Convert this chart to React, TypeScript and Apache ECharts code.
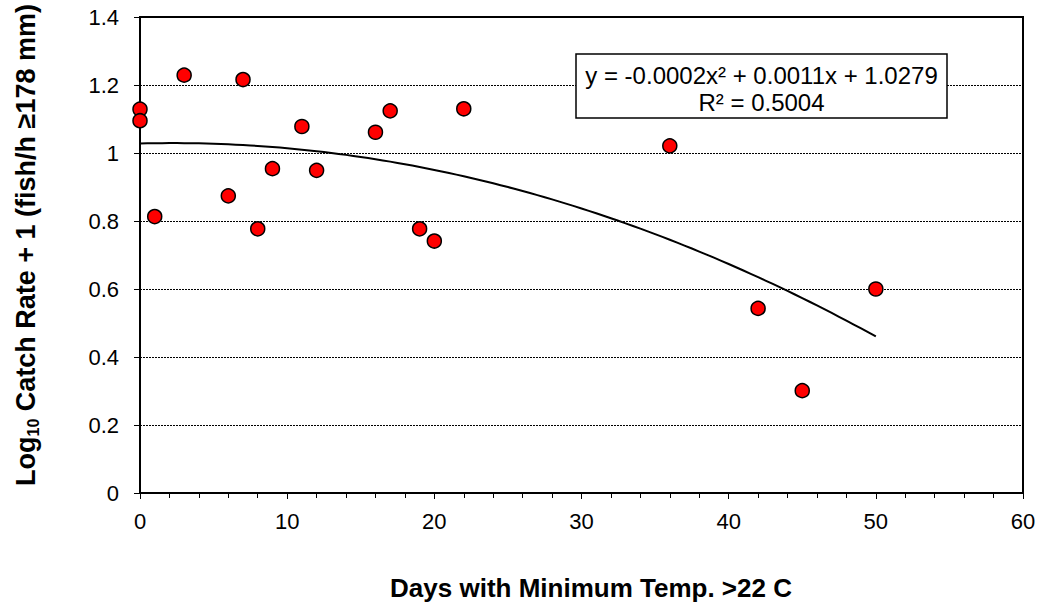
import React, { useEffect, useRef } from "react";
import * as echarts from "echarts";

const daysX = [0, 0, 1, 3, 6, 7, 8, 9, 11, 12, 16, 17, 19, 20, 22, 36, 42, 45, 50];
const catchY = [1.129, 1.095, 0.813, 1.229, 0.874, 1.216, 0.777, 0.954, 1.078, 0.949, 1.061, 1.124, 0.777, 0.741, 1.13, 1.021, 0.543, 0.301, 0.6];
// trendline coefficients [a, b, c] for y = a x^2 + b x + c (as drawn)
const trendCoef = [-0.000249, 0.0011, 1.0279];
const trendRange = [0, 50];
const eqLabel = "y = -0.0002x² + 0.0011x + 1.0279";
const r2Label = "R² = 0.5004";
const xTitle = "Days with Minimum Temp. >22 C";

const FONT = "'Liberation Sans', Arial, sans-serif";

export default function App() {
  const ref = useRef<HTMLDivElement>(null);
  useEffect(() => {
    const chart = echarts.init(ref.current!, null, { renderer: "svg" });
    const scatter = daysX.map((x, i) => [x, catchY[i]]);
    const trend: number[][] = [];
    for (let x = trendRange[0]; x <= trendRange[1]; x += 0.5) {
      trend.push([x, trendCoef[0] * x * x + trendCoef[1] * x + trendCoef[2]]);
    }
    chart.setOption({
      animation: false,
      backgroundColor: "#fff",
      textStyle: { fontFamily: FONT },
      grid: {
        left: 140,
        right: 21,
        top: 17,
        bottom: 110,
        show: true,
        borderColor: "#000",
        borderWidth: 2,
        backgroundColor: "transparent",
      },
      xAxis: {
        type: "value",
        min: 0,
        max: 60,
        interval: 10,
        axisLine: { show: true, onZero: false, lineStyle: { color: "#000", width: 2 } },
        axisTick: { show: true, inside: false, length: 6, lineStyle: { color: "#000", width: 1 } },
        minorTick: { show: true, splitNumber: 5, length: 5, lineStyle: { color: "#000", width: 1 } },
        splitLine: { show: false },
        axisLabel: { color: "#000", fontSize: 22, fontFamily: FONT, margin: 17 },
      },
      yAxis: {
        type: "value",
        min: 0,
        max: 1.4,
        interval: 0.2,
        axisLine: { show: true, onZero: false, lineStyle: { color: "#000", width: 2 } },
        axisTick: { show: true, inside: false, length: 6, lineStyle: { color: "#000", width: 1 } },
        splitLine: { show: true, lineStyle: { color: "#000", width: 1, type: [2, 1] } },
        axisLabel: { color: "#000", fontSize: 22, fontFamily: FONT, margin: 21 },
      },
      series: [
        {
          type: "line",
          data: trend,
          showSymbol: false,
          symbol: "none",
          lineStyle: { color: "#000", width: 2 },
          z: 2,
        },
        {
          type: "scatter",
          data: scatter,
          symbol: "circle",
          symbolSize: 14,
          itemStyle: { color: "#ff0000", borderColor: "#000", borderWidth: 1.5, opacity: 1 },
          z: 3,
        },
      ],
      graphic: [
        {
          type: "rect",
          shape: { x: 576, y: 54, width: 371, height: 64 },
          style: { fill: "#fff", stroke: "#000", lineWidth: 1.5 },
          z: 10,
        },
        {
          type: "text",
          x: 761.5,
          y: 75,
          style: {
            text: eqLabel,
            fill: "#000",
            font: `24px ${FONT}`,
            textAlign: "center",
            textVerticalAlign: "middle",
          },
          z: 11,
        },
        {
          type: "text",
          x: 761.5,
          y: 102,
          style: {
            text: r2Label,
            fill: "#000",
            font: `24px ${FONT}`,
            textAlign: "center",
            textVerticalAlign: "middle",
          },
          z: 11,
        },
        {
          type: "text",
          x: 591,
          y: 588,
          style: {
            text: xTitle,
            fill: "#000",
            font: `bold 26px ${FONT}`,
            textAlign: "center",
            textVerticalAlign: "middle",
          },
          z: 11,
        },
        {
          type: "text",
          x: 26,
          y: 245,
          rotation: Math.PI / 2,
          style: {
            text: "{a|Log}{s|10}{a| Catch Rate + 1 (fish/h ≥178 mm)}",
            fill: "#000",
            textAlign: "center",
            textVerticalAlign: "middle",
            rich: {
              a: { fontSize: 27, fontWeight: "bold", fontFamily: FONT, fill: "#000", verticalAlign: "middle", lineHeight: 30 },
              s: { fontSize: 16, fontWeight: "bold", fontFamily: FONT, fill: "#000", verticalAlign: "bottom", lineHeight: 30, padding: [12, 0, 0, 0] },
            },
          },
          z: 11,
        },
      ],
    });
    return () => chart.dispose();
  }, []);
  return (
    <div
      ref={ref}
      style={{ position: "absolute", left: 0, top: 0, width: 1044, height: 603 }}
    />
  );
}
